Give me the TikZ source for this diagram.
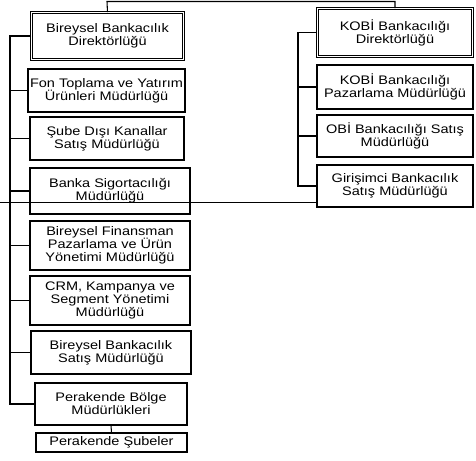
\documentclass[tikz,border=0pt]{standalone}
\usepackage{fontspec}
\setmainfont[FakeStretch=1.17]{Liberation Sans}
\begin{document}
\begin{tikzpicture}[x=0.75pt,y=-0.75pt,
  sz/.style 2 args={minimum width=#1*0.75pt,minimum height=#2*0.75pt},
  box/.style={draw,line width=0.8pt,align=center,inner sep=1pt,
    font=\fontsize{9.3}{9.8}\selectfont},
  dirbox/.style={box,line width=0.6pt,double,double distance=1.3pt},
  conn/.style={line width=0.8pt}]
\useasboundingbox (0,0) rectangle (476,461);
% left column
\node[dirbox,sz={152}{47}] (bd) at (107.5,36) {Bireysel Bankacılık\\Direktörlüğü};
\node[box,sz={157}{43}] (fon) at (106.5,90.5) {Fon Toplama ve Yatırım\\Ürünleri Müdürlüğü};
\node[box,sz={154}{43}] (sube) at (107,138.5) {Şube Dışı Kanallar\\Satış Müdürlüğü};
\node[box,sz={160}{46}] (banka) at (110,191) {Banka Sigortacılığı\\Müdürlüğü};
\node[box,sz={160}{49}] (bfin) at (110,245.5) {Bireysel Finansman\\Pazarlama ve Ürün\\Yönetimi Müdürlüğü};
\node[box,sz={160}{49}] (crm) at (110,300.5) {CRM, Kampanya ve\\Segment Yönetimi\\Müdürlüğü};
\node[box,sz={160}{43}] (bsat) at (111,352.5) {Bireysel Bankacılık\\Satış Müdürlüğü};
\node[box,sz={152}{42}] (pbm) at (111,404) {Perakende Bölge\\Müdürlükleri};
\node[box,sz={151}{19}] (psb) at (111.5,442.5) {Perakende Şubeler};
% right column
\node[dirbox,sz={155}{48}] (kd) at (395,32.5) {KOBİ Bankacılığı\\Direktörlüğü};
\node[box,sz={156}{44}] (kpz) at (395,87) {KOBİ Bankacılığı\\Pazarlama Müdürlüğü};
\node[box,sz={156}{42}] (obi) at (395,136) {OBİ Bankacılığı Satış\\Müdürlüğü};
\node[box,sz={156}{42}] (gir) at (395,186) {Girişimci Bankacılık\\Satış Müdürlüğü};
% coordinates
\coordinate (topl) at (107,1.5);
\coordinate (lsp) at (10,404);
\coordinate (rsp) at (298,186);
\coordinate (hl) at (0,202);
% top link
\draw[conn] (bd.north) -- (topl) -| (kd.north);
% left spine
\draw[conn] (bd.west) -| (lsp) -- (pbm.west);
\foreach \n in {fon,sube,banka,bfin,crm,bsat}
  \draw[conn] (\n.west) -- (\n.west -| lsp);
\draw[conn] (pbm.south) -- (psb.north);
% right spine
\draw[conn] (kd.west) -| (rsp) -- (gir.west);
\foreach \n in {kpz,obi}
  \draw[conn] (\n.west) -- (\n.west -| rsp);
% horizontal rule
\draw[line width=0.7pt] (hl) -- (hl -| gir.west);
\end{tikzpicture}
\end{document}
